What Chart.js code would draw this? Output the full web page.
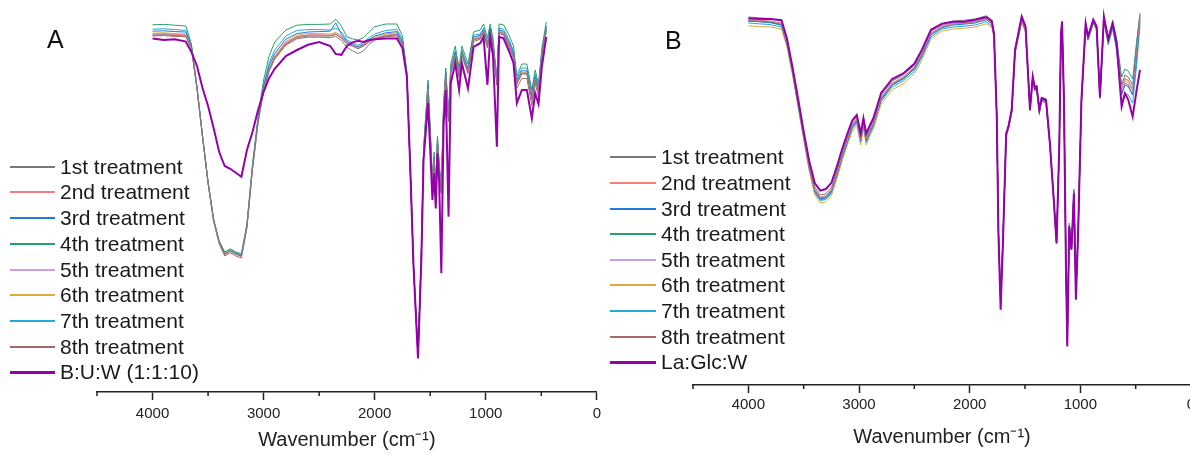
<!DOCTYPE html>
<html>
<head>
<meta charset="utf-8">
<script src="https://cdn.jsdelivr.net/npm/chart.js@4.4.1/dist/chart.umd.min.js"></script>
<style>
  html, body { margin: 0; padding: 0; overflow: hidden; background: #fff; }
  #wrap { position: relative; width: 1190px; height: 455px; overflow: hidden; font-family: "Liberation Sans", Arial, sans-serif; }
  canvas { position: absolute; top: 0; }
  #chartA { left: 0; }
  #chartB { left: 600px; }
  .panel { position: absolute; font-size: 25px; line-height: 25px; color: #111; }
  .legend { position: absolute; left: 0; top: 0; }
  .legend .row { position: absolute; height: 24px; white-space: nowrap; }
  .legend .sw { position: absolute; left: 0; }
  .legend .lbl { position: absolute; top: 0; font-size: 21px; line-height: 24px; color: #1a1a1a; }
</style>
</head>
<body>
<div id="wrap">
  <canvas id="chartA" width="606" height="455"></canvas>
  <canvas id="chartB" width="612" height="455"></canvas>
  <div class="panel" style="left:47px; top:27px;">A</div>
  <div class="panel" style="left:665px; top:28px;">B</div>
  <div class="legend" id="legendA"></div>
  <div class="legend" id="legendB"></div>
</div>
<script>
// series names
const treatments = ['1st treatment', '2nd treatment', '3rd treatment', '4th treatment',
  '5th treatment', '6th treatment', '7th treatment', '8th treatment'];
const blendA = 'B:U:W (1:1:10)';
const blendB = 'La:Glc:W';
const tickLabels = [4000, 3000, 2000, 1000, 0];

// panel A: wavenumbers (cm-1) and transmittance (a.u.)
const wnA = [4000, 3900, 3800, 3700, 3650, 3600, 3550, 3500, 3450, 3400,
  3350, 3300, 3250, 3200, 3150, 3100, 3050, 3000, 2950, 2900,
  2800, 2700, 2600, 2500, 2400, 2350, 2300, 2250, 2200, 2150,
  2100, 2050, 2000, 1900, 1800, 1750, 1710, 1680, 1650, 1610,
  1580, 1560, 1520, 1500, 1480, 1465, 1450, 1435, 1420, 1400,
  1380, 1360, 1335, 1315, 1275, 1240, 1215, 1160, 1110, 1050,
  1020, 985, 960, 935, 900, 880, 840, 795, 750, 720,
  675, 630, 585, 555, 525, 495, 455];

const a1 = [89.2, 89.3, 89.1, 89.0, 86.0, 76.0, 64.0, 52.5, 43.0, 37.5,
  34.5, 35.3, 34.5, 34.0, 41.5, 56.0, 67.5, 75.5, 80.5, 83.5,
  87.0, 88.6, 89.0, 89.0, 89.0, 89.4, 88.5, 87.0, 86.5, 85.8,
  86.5, 87.5, 88.3, 89.0, 89.3, 87.0, 79.0, 56.0, 31.0, 9.0,
  34.0, 59.0, 75.5, 64.0, 52.0, 58.0, 50.0, 62.0, 56.0, 50.0,
  70.0, 79.0, 68.0, 80.0, 84.0, 79.0, 84.5, 80.0, 88.0, 88.5,
  90.0, 86.5, 90.0, 86.5, 77.0, 90.0, 89.5, 87.0, 84.0, 77.0,
  79.5, 79.5, 73.0, 78.0, 75.0, 84.0, 90.5];
const a2 = [89.5, 89.6, 89.4, 89.3, 86.1, 76.0, 64.0, 52.5, 43.0, 37.4,
  34.4, 35.2, 34.4, 33.9, 41.4, 55.9, 67.5, 75.6, 80.7, 83.7,
  87.3, 88.9, 89.3, 89.3, 89.2, 89.6, 88.7, 87.1, 86.6, 86.0,
  86.7, 87.7, 88.5, 89.2, 89.5, 87.1, 79.0, 56.0, 31.0, 9.0,
  34.0, 59.1, 75.8, 64.1, 52.0, 58.1, 50.0, 62.1, 56.1, 50.0,
  70.1, 79.1, 68.1, 80.1, 84.2, 79.2, 84.6, 80.1, 88.2, 88.7,
  90.2, 86.6, 90.2, 86.6, 77.1, 90.2, 89.7, 87.2, 84.2, 77.2,
  79.7, 79.7, 73.2, 78.2, 75.2, 84.2, 90.7];
const a3 = [90.2, 90.3, 90.1, 90.0, 86.3, 76.1, 63.8, 52.2, 42.8, 37.3,
  34.4, 35.2, 34.6, 34.1, 41.6, 56.2, 68.0, 76.3, 81.6, 84.6,
  88.2, 89.6, 90.0, 90.1, 90.2, 92.3, 89.4, 87.6, 86.9, 86.3,
  87.0, 88.1, 89.0, 89.8, 90.1, 87.6, 79.2, 56.0, 31.0, 9.0,
  34.2, 59.5, 76.5, 64.6, 52.3, 58.6, 50.3, 62.6, 56.6, 50.2,
  70.6, 79.6, 68.6, 80.6, 84.8, 79.6, 85.0, 80.6, 88.7, 89.2,
  90.6, 87.0, 90.6, 87.0, 77.6, 90.6, 90.2, 87.8, 84.8, 77.7,
  80.3, 80.3, 73.8, 78.8, 75.7, 84.6, 91.2];
const a4 = [91.8, 91.9, 91.7, 91.5, 87.0, 76.5, 64.0, 52.5, 43.3, 37.8,
  35.0, 35.8, 35.0, 34.6, 42.0, 57.0, 69.0, 78.0, 84.0, 87.5,
  90.5, 91.7, 91.9, 91.9, 92.0, 93.2, 91.5, 88.8, 88.3, 88.0,
  88.6, 90.0, 91.3, 92.0, 92.0, 89.0, 80.0, 56.5, 31.5, 9.5,
  35.0, 61.0, 78.0, 66.0, 53.0, 60.0, 51.0, 64.0, 57.5, 51.0,
  72.0, 81.0, 69.5, 82.0, 86.5, 81.0, 86.5, 82.0, 90.0, 90.5,
  92.0, 88.5, 92.0, 88.5, 78.5, 92.0, 91.8, 89.5, 86.5, 79.0,
  82.0, 82.0, 75.5, 80.5, 77.0, 86.0, 92.5];
const a5 = [89.4, 89.5, 89.3, 89.2, 86.0, 75.9, 63.9, 52.4, 42.9, 37.4,
  34.4, 35.2, 34.4, 33.9, 41.4, 55.9, 67.4, 75.5, 80.6, 83.6,
  87.2, 88.8, 89.2, 89.2, 89.1, 89.5, 88.6, 87.0, 86.5, 85.9,
  86.6, 87.6, 88.4, 89.1, 89.4, 87.0, 79.0, 56.0, 31.0, 9.0,
  34.0, 59.0, 75.7, 64.0, 52.0, 58.0, 50.0, 62.0, 56.0, 50.0,
  70.0, 79.0, 68.0, 80.0, 84.1, 79.1, 84.6, 80.1, 88.1, 88.6,
  90.1, 86.6, 90.1, 86.6, 77.1, 90.1, 89.6, 87.1, 84.1, 77.1,
  79.6, 79.6, 73.1, 78.1, 75.1, 84.1, 90.6];
const a6 = [89.7, 89.8, 89.6, 89.5, 86.2, 76.0, 63.9, 52.4, 43.0, 37.5,
  34.6, 35.4, 34.6, 34.1, 41.6, 56.0, 67.6, 75.8, 80.9, 84.0,
  87.6, 89.2, 89.6, 89.6, 89.5, 89.9, 89.0, 87.4, 86.8, 86.2,
  86.9, 87.9, 88.8, 89.5, 89.8, 87.3, 79.1, 56.1, 31.0, 9.0,
  34.1, 59.2, 76.0, 64.3, 52.1, 58.3, 50.1, 62.3, 56.3, 50.1,
  70.3, 79.3, 68.3, 80.3, 84.4, 79.3, 84.8, 80.3, 88.4, 88.9,
  90.4, 86.8, 90.4, 86.8, 77.3, 90.4, 90.0, 87.4, 84.4, 77.4,
  79.9, 79.9, 73.4, 78.4, 75.4, 84.3, 90.9];
const a7 = [90.7, 90.8, 90.6, 90.4, 86.6, 76.2, 64.0, 52.3, 43.0, 37.6,
  34.8, 35.6, 34.8, 34.3, 41.8, 56.5, 68.3, 76.8, 82.3, 85.5,
  89.0, 90.4, 90.6, 90.6, 90.5, 91.0, 90.0, 88.0, 87.3, 86.7,
  87.4, 88.6, 89.5, 90.4, 90.6, 88.2, 79.5, 56.2, 31.2, 9.2,
  34.5, 60.0, 77.0, 65.0, 52.5, 59.0, 50.5, 63.0, 57.0, 50.5,
  71.0, 80.0, 69.0, 81.0, 85.3, 80.0, 85.5, 81.0, 89.2, 89.5,
  91.0, 87.5, 91.0, 87.5, 78.0, 91.0, 90.7, 88.3, 85.3, 78.2,
  81.0, 81.0, 74.5, 79.5, 76.2, 85.0, 91.5];
const a8 = [89.0, 89.1, 88.9, 88.8, 85.9, 75.8, 63.7, 52.2, 42.6, 37.0,
  34.0, 34.8, 34.0, 33.5, 41.0, 55.6, 67.2, 75.2, 80.2, 83.2,
  86.7, 88.3, 88.7, 88.7, 88.6, 88.9, 87.9, 86.2, 85.3, 84.6,
  85.3, 86.9, 88.0, 88.8, 89.0, 86.8, 78.8, 55.8, 30.8, 8.8,
  33.8, 58.6, 75.0, 63.6, 51.6, 57.6, 49.6, 61.6, 55.6, 49.6,
  69.6, 78.6, 67.6, 79.6, 83.6, 78.6, 84.0, 79.6, 87.6, 88.2,
  89.6, 86.0, 89.6, 86.0, 76.6, 89.6, 89.2, 86.5, 83.4, 76.0,
  78.4, 78.4, 71.6, 77.2, 73.8, 83.2, 90.2];
const aBlend = [88.4, 88.0, 88.2, 87.6, 85.0, 81.5, 76.0, 71.5, 66.0, 60.0,
  56.5, 55.8, 54.8, 53.8, 60.5, 65.0, 70.5, 75.0, 78.5, 80.8,
  84.0, 85.5, 86.8, 87.5, 86.5, 84.5, 84.3, 86.5, 87.4, 87.8,
  87.5, 88.0, 88.2, 88.4, 88.4, 86.0, 78.8, 56.3, 31.3, 8.4,
  33.0, 58.0, 72.2, 60.5, 48.0, 54.7, 45.9, 59.7, 53.0, 29.7,
  66.3, 75.5, 43.8, 77.2, 82.2, 75.5, 82.2, 75.9, 86.3, 87.2,
  88.8, 76.8, 88.8, 84.0, 61.3, 88.8, 88.4, 85.5, 82.2, 72.2,
  75.5, 75.5, 68.4, 74.7, 72.0, 81.3, 88.8];

// panel B
const wnB = [4000, 3900, 3800, 3700, 3650, 3600, 3550, 3500, 3450, 3400,
  3350, 3300, 3250, 3200, 3150, 3100, 3060, 3020, 2985, 2960,
  2935, 2900, 2870, 2800, 2700, 2600, 2500, 2430, 2350, 2250,
  2150, 2050, 1950, 1850, 1800, 1780, 1755, 1740, 1720, 1700,
  1670, 1650, 1620, 1590, 1530, 1495, 1455, 1430, 1410, 1395,
  1370, 1350, 1310, 1275, 1240, 1215, 1190, 1175, 1165, 1148,
  1130, 1118, 1100, 1080, 1058, 1040, 1020, 990, 952, 930,
  883, 853, 823, 787, 748, 708, 672, 627, 597, 567,
  527, 491, 461];

const b1 = [92.0, 91.8, 91.6, 91.0, 86.0, 79.0, 71.0, 63.0, 55.3, 49.5,
  47.5, 47.8, 49.3, 53.5, 58.2, 62.3, 65.5, 67.0, 62.0, 66.0,
  62.0, 64.3, 66.0, 72.3, 76.0, 77.5, 80.0, 83.5, 88.5, 90.3,
  91.0, 91.2, 91.5, 92.3, 91.2, 88.0, 67.5, 38.5, 20.5, 36.0,
  63.0, 64.8, 69.0, 84.0, 92.3, 89.8, 69.5, 77.5, 74.5, 75.0,
  69.0, 72.0, 71.5, 60.8, 46.5, 36.0, 60.5, 88.2, 91.0, 71.5,
  30.0, 11.0, 40.0, 34.5, 48.5, 23.0, 38.5, 71.5, 90.5, 87.5,
  91.5, 90.0, 72.5, 92.2, 87.0, 91.0, 86.5, 75.0, 77.5, 77.0,
  75.0, 85.0, 93.0];
const b2 = [91.3, 91.2, 91.0, 90.5, 85.6, 78.6, 70.5, 62.5, 54.8, 49.0,
  47.0, 47.3, 48.8, 53.0, 57.7, 61.8, 65.0, 66.5, 61.5, 65.5,
  61.5, 63.8, 65.5, 71.8, 75.5, 77.0, 79.5, 83.0, 88.0, 89.8,
  90.4, 90.6, 90.9, 91.6, 90.6, 87.5, 67.2, 38.3, 20.3, 35.8,
  62.6, 64.4, 68.6, 83.5, 91.6, 89.2, 69.2, 77.0, 74.1, 74.6,
  68.6, 71.6, 71.1, 60.5, 46.3, 35.8, 60.2, 87.6, 90.4, 71.2,
  29.8, 10.8, 39.8, 34.3, 48.3, 22.8, 38.3, 71.2, 89.9, 87.0,
  91.0, 89.5, 72.2, 91.6, 86.4, 90.3, 85.6, 74.2, 76.6, 76.2,
  74.0, 84.0, 92.0];
const b3 = [91.0, 90.8, 90.6, 90.0, 85.2, 78.2, 70.1, 62.1, 54.3, 48.5,
  46.5, 46.8, 48.3, 52.5, 57.2, 61.3, 64.5, 66.0, 61.0, 65.0,
  61.0, 63.3, 65.0, 71.3, 75.0, 76.5, 79.0, 82.5, 87.5, 89.3,
  90.0, 90.2, 90.5, 91.3, 90.3, 87.2, 67.0, 38.2, 20.6, 35.7,
  62.3, 64.1, 68.3, 83.2, 91.3, 88.8, 68.9, 76.6, 73.7, 74.2,
  68.2, 71.2, 70.7, 60.2, 46.0, 35.6, 60.0, 87.3, 90.0, 70.9,
  29.6, 10.6, 39.6, 34.0, 48.0, 22.6, 38.0, 70.9, 89.5, 86.6,
  90.6, 89.0, 71.8, 91.2, 85.8, 89.6, 84.4, 72.5, 75.0, 74.6,
  72.5, 82.0, 91.0];
const b4 = [91.2, 91.0, 90.8, 90.2, 85.3, 78.3, 70.3, 62.3, 54.5, 48.8,
  46.8, 47.1, 48.6, 52.8, 57.5, 61.6, 64.8, 66.3, 61.3, 65.3,
  61.3, 63.6, 65.3, 71.6, 75.3, 76.8, 79.3, 82.8, 88.0, 89.8,
  90.5, 90.6, 90.9, 91.7, 90.7, 87.6, 67.3, 38.4, 20.8, 36.0,
  62.6, 64.4, 68.6, 83.6, 91.6, 89.1, 69.1, 77.0, 74.0, 74.5,
  68.5, 71.5, 71.0, 60.4, 46.2, 35.8, 60.2, 87.6, 90.4, 71.2,
  29.8, 10.9, 39.9, 34.3, 48.3, 22.9, 38.3, 71.2, 89.9, 87.0,
  91.0, 89.6, 72.2, 91.8, 86.8, 90.6, 86.4, 77.0, 79.0, 78.5,
  76.5, 86.0, 92.5];
const b5 = [91.3, 91.1, 90.9, 90.3, 85.4, 78.4, 70.4, 62.4, 54.6, 48.8,
  46.8, 47.1, 48.6, 52.8, 57.5, 61.6, 64.8, 66.3, 61.3, 65.3,
  61.3, 63.6, 65.3, 71.6, 75.3, 76.8, 79.3, 82.8, 87.8, 89.6,
  90.3, 90.5, 90.8, 91.6, 90.5, 87.4, 67.2, 38.3, 20.4, 35.8,
  62.5, 64.3, 68.5, 83.4, 91.5, 89.0, 69.0, 76.9, 73.9, 74.4,
  68.4, 71.4, 70.9, 60.3, 46.1, 35.7, 60.1, 87.5, 90.3, 71.1,
  29.7, 10.7, 39.7, 34.2, 48.2, 22.7, 38.2, 71.1, 89.8, 86.9,
  90.9, 89.4, 72.0, 91.5, 86.2, 90.2, 85.2, 73.5, 76.0, 75.5,
  73.5, 83.0, 91.5];
const b6 = [89.8, 89.6, 89.5, 89.0, 84.3, 77.3, 69.3, 61.3, 53.5, 47.5,
  45.5, 45.8, 47.3, 51.5, 56.2, 60.3, 63.5, 65.0, 60.0, 64.0,
  60.0, 62.3, 64.0, 70.2, 73.8, 75.3, 77.8, 81.3, 86.5, 88.5,
  89.0, 89.2, 89.5, 90.3, 89.4, 86.5, 66.7, 38.0, 20.5, 35.5,
  62.0, 63.8, 68.0, 82.8, 90.5, 88.3, 68.5, 76.3, 73.4, 73.9,
  67.9, 70.9, 70.4, 59.9, 45.8, 35.4, 59.8, 86.8, 89.6, 70.6,
  29.4, 10.5, 39.5, 33.9, 47.9, 22.5, 37.9, 70.6, 89.2, 86.3,
  90.3, 88.8, 71.5, 90.8, 85.6, 89.6, 85.0, 74.0, 76.5, 76.0,
  74.0, 83.5, 91.5];
const b7 = [90.5, 90.3, 90.1, 89.5, 84.8, 77.8, 69.8, 61.8, 54.0, 48.0,
  46.1, 46.4, 47.9, 52.1, 56.8, 60.9, 64.1, 65.6, 60.6, 64.6,
  60.6, 62.9, 64.6, 70.9, 74.5, 76.0, 78.5, 82.0, 87.0, 89.0,
  89.5, 89.7, 90.0, 90.8, 89.8, 87.0, 67.0, 38.5, 22.5, 36.5,
  62.5, 64.0, 68.0, 83.0, 90.8, 88.3, 68.5, 76.5, 73.5, 74.0,
  68.0, 71.0, 70.5, 60.0, 46.0, 36.0, 60.0, 87.0, 89.8, 70.8,
  30.5, 12.0, 40.5, 35.0, 49.0, 24.5, 39.0, 70.8, 89.3, 86.2,
  90.3, 88.8, 71.5, 90.8, 85.0, 89.0, 83.5, 70.5, 73.0, 72.5,
  70.5, 80.0, 90.0];
const b8 = [91.0, 90.9, 90.6, 90.0, 85.1, 78.0, 70.0, 62.0, 54.3, 48.4,
  46.3, 46.6, 48.1, 52.3, 57.0, 61.2, 64.5, 66.0, 61.0, 65.0,
  61.0, 63.3, 65.0, 71.3, 75.0, 76.5, 79.0, 82.5, 87.6, 89.5,
  90.2, 90.4, 90.7, 91.4, 90.4, 87.3, 67.0, 38.0, 20.0, 35.5,
  62.3, 64.0, 68.3, 83.2, 91.4, 89.0, 68.8, 76.8, 73.8, 74.3,
  68.3, 71.3, 70.8, 60.1, 46.0, 35.5, 59.8, 87.4, 90.2, 70.8,
  29.4, 10.4, 39.4, 33.8, 47.8, 22.4, 37.8, 70.8, 89.6, 86.6,
  90.7, 89.2, 71.8, 91.4, 86.2, 90.4, 85.4, 73.0, 75.5, 75.0,
  72.5, 82.5, 92.0];
const bBlend = [91.7, 91.5, 91.5, 91.2, 86.5, 79.3, 71.5, 63.4, 56.0, 50.5,
  48.6, 49.0, 50.5, 54.6, 59.2, 63.2, 66.2, 67.5, 62.9, 66.7,
  62.9, 65.0, 66.7, 73.0, 76.5, 77.9, 80.3, 83.9, 88.8, 90.3,
  90.8, 90.8, 91.3, 92.0, 91.0, 87.9, 67.0, 37.9, 18.8, 35.0,
  62.9, 64.6, 68.8, 83.8, 92.1, 89.6, 68.8, 77.1, 74.2, 74.6,
  68.8, 71.7, 71.3, 60.4, 46.3, 35.4, 60.0, 87.9, 90.8, 71.3,
  29.6, 9.6, 39.6, 33.8, 47.9, 21.3, 37.9, 71.3, 90.4, 87.1,
  91.3, 89.6, 72.0, 92.1, 86.3, 90.4, 85.4, 69.6, 72.9, 71.3,
  67.1, 73.8, 78.8];

const colors = ['rgb(120,120,120)', 'rgb(245,125,125)', 'rgb(35,120,225)', 'rgb(40,160,110)',
  'rgb(200,160,230)', 'rgb(225,170,60)', 'rgb(35,170,215)', 'rgb(165,105,105)'];
const blendColor = 'rgb(150,0,170)';
const FONT = "'Liberation Sans', Arial, sans-serif";

function makeDatasets(wn, series, blendName, blendVals) {
  const ds = series.map((vals, i) => ({
    label: treatments[i],
    data: wn.map((w, j) => ({ x: w, y: vals[j] })),
    borderColor: colors[i],
    borderWidth: 1,
    order: 1
  }));
  ds.push({
    label: blendName,
    data: wn.map((w, j) => ({ x: w, y: blendVals[j] })),
    borderColor: blendColor,
    borderWidth: 2,
    order: 0
  });
  return ds;
}

// short ticks halfway between the labelled ones
const minorTicks = {
  id: 'minorTicks',
  afterDraw(chart) {
    const sx = chart.scales.x, ctx = chart.ctx;
    ctx.save();
    ctx.strokeStyle = '#222';
    ctx.lineWidth = 1.5;
    for (let v = 500; v <= 4500; v += 1000) {
      const px = sx.getPixelForValue(v);
      ctx.beginPath();
      ctx.moveTo(px, sx.top);
      ctx.lineTo(px, sx.top + 4);
      ctx.stroke();
    }
    ctx.restore();
  }
};

function makeChart(id, datasets, pad, axisH, tickPad, titlePad) {
  return new Chart(document.getElementById(id), {
    type: 'line',
    data: { datasets: datasets },
    plugins: [minorTicks],
    options: {
      responsive: false,
      animation: false,
      devicePixelRatio: 1,
      layout: { padding: pad },
      elements: { point: { radius: 0 }, line: { tension: 0 } },
      plugins: { legend: { display: false }, tooltip: { enabled: false } },
      scales: {
        x: {
          type: 'linear',
          reverse: true,
          min: 0,
          max: 4500,
          afterFit: s => { s.height = axisH; },
          border: { display: true, color: '#222', width: 1.5 },
          grid: {
            display: true,
            drawOnChartArea: false,
            drawTicks: true,
            tickLength: 8,
            tickWidth: 1.5,
            tickColor: c => (c.tick && c.tick.value % 1000 === 0) ? '#222' : 'rgba(0,0,0,0)'
          },
          ticks: {
            stepSize: 500,
            autoSkip: false,
            maxRotation: 0,
            padding: tickPad,
            color: '#222',
            font: { family: FONT, size: 15 },
            callback: v => tickLabels.includes(v) ? String(v) : ''
          },
          title: {
            display: true,
            text: 'Wavenumber (cm\u207B\u00B9)',
            color: '#222',
            font: { family: FONT, size: 20 },
            padding: { top: 0, bottom: titlePad }
          }
        },
        y: { display: false, min: 0, max: 95 }
      }
    }
  });
}

function buildLegend(chart, box, x0, lineLen, textLeft, firstY, gap) {
  chart.data.datasets.forEach((ds, i) => {
    const cy = Math.round(firstY + i * gap);
    const h = ds.borderWidth + 1;
    const row = document.createElement('div');
    row.className = 'row';
    row.style.left = x0 + 'px';
    row.style.top = (cy - 12) + 'px';
    const sw = document.createElement('div');
    sw.className = 'sw';
    sw.style.width = lineLen + 'px';
    sw.style.height = h + 'px';
    sw.style.top = (12 - Math.floor(h / 2)) + 'px';
    sw.style.background = ds.borderColor;
    const lbl = document.createElement('span');
    lbl.className = 'lbl';
    lbl.style.left = textLeft + 'px';
    lbl.textContent = ds.label;
    row.append(sw, lbl);
    box.appendChild(row);
  });
}

const chartA = makeChart('chartA', makeDatasets(wnA, [a1, a2, a3, a4, a5, a6, a7, a8], blendA, aBlend),
  { left: 97, right: 9, top: 12, bottom: 0 }, 63, 5, 3);
const chartB = makeChart('chartB', makeDatasets(wnB, [b1, b2, b3, b4, b5, b6, b7, b8], blendB, bBlend),
  { left: 93, right: 21, top: 5, bottom: 0 }, 70, 3, 6);

buildLegend(chartA, document.getElementById('legendA'), 10, 45, 50, 166.7, 25.7);
buildLegend(chartB, document.getElementById('legendB'), 610, 46, 51, 157.3, 25.6);
</script>
</body>
</html>
